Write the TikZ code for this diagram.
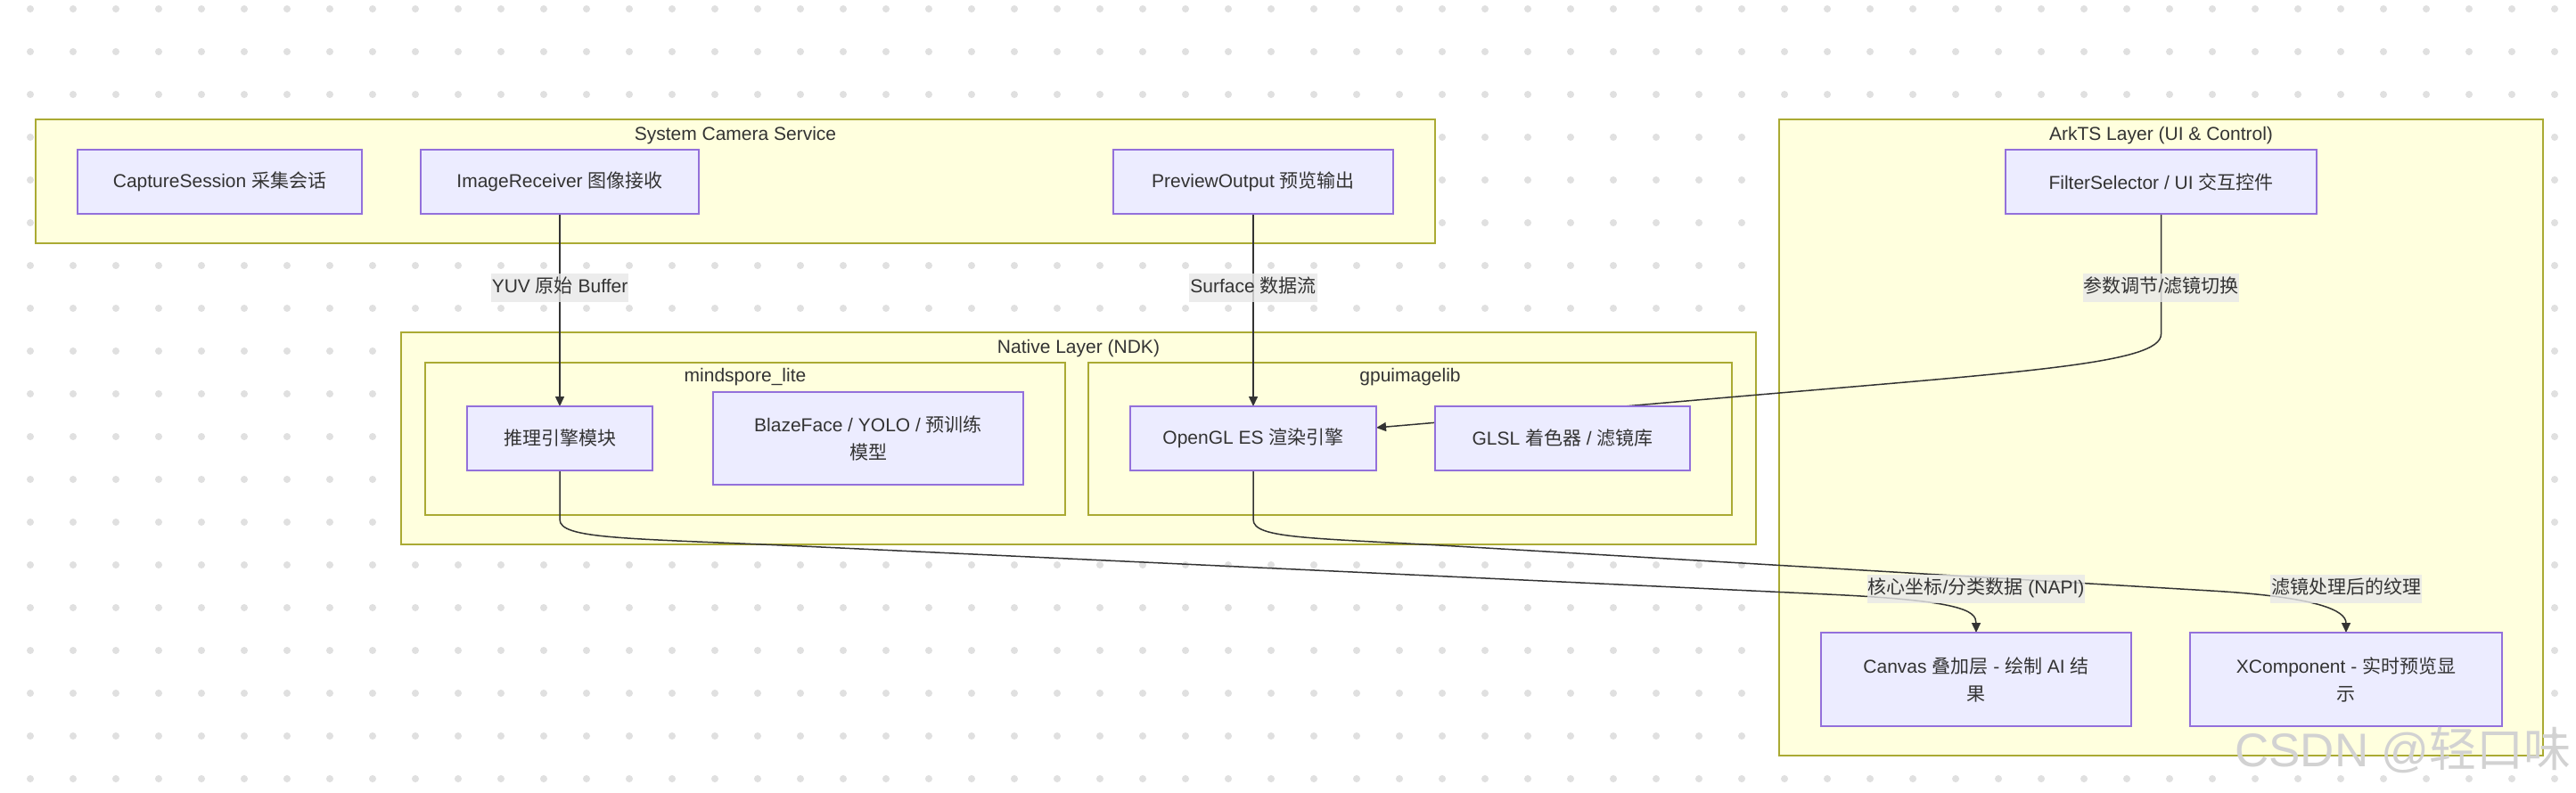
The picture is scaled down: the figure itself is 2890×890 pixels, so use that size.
\documentclass[tikz,border=0pt]{standalone}
\usepackage{fontspec}
\setmainfont{Liberation Sans}
\newfontfamily\cjkfont{Noto Sans CJK SC}
\newcommand{\zh}[1]{{\cjkfont #1}}
\usetikzlibrary{arrows.meta,calc}
\definecolor{clfill}{HTML}{FFFFDE}
\definecolor{clline}{HTML}{AAAA33}
\definecolor{ndfill}{HTML}{ECECFF}
\definecolor{ndline}{HTML}{9370DB}
\definecolor{txt}{HTML}{333333}
\definecolor{dotc}{HTML}{E0E0E0}
\definecolor{lblbg}{HTML}{E8E8E8}
\definecolor{wmark}{HTML}{D2D2D2}
\pgfdeclarelayer{bg}
\pgfdeclarelayer{edges}
\pgfsetlayers{bg,edges,main}
\begin{document}
\begin{tikzpicture}[x=1pt,y=-1pt,
  cluster/.style={draw=clline,fill=clfill,line width=1.6pt,inner sep=0pt,outer sep=0pt,rectangle},
  box/.style={draw=ndline,fill=ndfill,line width=1.6pt,inner sep=0pt,outer sep=0pt,rectangle,
    text=txt,font=\fontsize{21}{31}\selectfont,align=center,minimum height=72pt},
  ttl/.style={text=txt,font=\fontsize{21}{25}\selectfont,inner sep=0pt},
  lbl/.style={fill=lblbg,fill opacity=0.8,text opacity=1,text=txt,font=\fontsize{21}{25}\selectfont,
    inner xsep=1pt,inner ysep=5.5pt,text height=16pt,text depth=5pt},
  edge/.style={draw=txt,line width=1.5pt,-{Triangle[length=11pt,width=10pt]}}]
\useasboundingbox (0,0) rectangle (2890,890);

% background dots and clusters
\begin{pgfonlayer}{bg}
  \fill[white] (0,0) rectangle (2890,890);
  \foreach \i in {0,...,59}{\foreach \j in {0,...,18}{\fill[dotc] (34+48*\i,10+48*\j) circle (4pt);}}
  \node[cluster,minimum width=1570pt,minimum height=139pt] (sys) at (825,203.5) {};
  \node[cluster,minimum width=857pt,minimum height=714pt] (ark) at (2424.5,491) {};
  \node[cluster,minimum width=1520pt,minimum height=238pt] (native) at (1210,492) {};
  \node[cluster,minimum width=718pt,minimum height=171pt] (ms) at (836,492.5) {};
  \node[cluster,minimum width=722pt,minimum height=171pt] (gpu) at (1582,492.5) {};
\end{pgfonlayer}

% cluster titles
\node[ttl] (sysT) at (825,152) {System Camera Service};
\node[ttl] (arkT) at (2424.5,152) {ArkTS Layer (UI \& Control)};
\node[ttl] (nativeT) at (1210,391) {Native Layer (NDK)};
\node[ttl] (msT) at (836,423) {mindspore\_lite};
\node[ttl] (gpuT) at (1582,423) {gpuimagelib};

% nodes
\node[box,minimum width=319pt] (cap) at (246.5,204) {CaptureSession \zh{采集会话}};
\node[box,minimum width=312pt] (imgr) at (628,204) {ImageReceiver \zh{图像接收}};
\node[box,minimum width=314pt] (prev) at (1406,204) {PreviewOutput \zh{预览输出}};
\node[box,minimum width=349pt] (filt) at (2424.5,204) {FilterSelector / UI \zh{交互控件}};
\node[box,minimum width=208pt] (infer) at (628,492) {\zh{推理引擎模块}};
\node[box,minimum width=348pt,minimum height=104pt] (blaze) at (974,492) {BlazeFace / YOLO / \zh{预训练}\\\zh{模型}};
\node[box,minimum width=276pt] (ogl) at (1406,492) {OpenGL ES \zh{渲染引擎}};
\node[box,minimum width=286pt] (glsl) at (1753,492) {GLSL \zh{着色器} / \zh{滤镜库}};
\node[box,minimum width=348pt,minimum height=105pt] (canvas) at (2217,762.5) {Canvas \zh{叠加层} - \zh{绘制} AI \zh{结}\\\zh{果}};
\node[box,minimum width=350pt,minimum height=105pt] (xcomp) at (2632,762.5) {XComponent - \zh{实时预览显}\\\zh{示}};

% edges
\begin{pgfonlayer}{edges}
  \draw[edge] (imgr.south) -- (infer.north);
  \draw[edge] (prev.south) -- (ogl.north);
  \draw[edge] (filt.south) -- (2424.5,375) .. controls (2424.5,408) and (2275,417) .. (1950,445) -- ([yshift=12pt]ogl.east);
  \draw[edge] (infer.south) -- (628,583) .. controls (628,605) and (700,604) .. (900,613) -- (2050,667) .. controls (2200,674) and (2217,685) .. (canvas.north);
  \draw[edge] (ogl.south) -- (1406,583) .. controls (1406,605) and (1470,603.4) .. (1650,614) -- (2480,663) .. controls (2600,670) and (2632,685) .. (xcomp.north);
\end{pgfonlayer}

% edge labels
\node[lbl] (l1) at (628,323) {YUV \zh{原始} Buffer};
\node[lbl] (l2) at (1406,323) {Surface \zh{数据流}};
\node[lbl] (l3) at (2424.5,323) {\zh{参数调节}/\zh{滤镜切换}};
\node[lbl] (l4) at (2217,661) {\zh{核心坐标}/\zh{分类数据} (NAPI)};
\node[lbl] (l5) at (2632,661) {\zh{滤镜处理后的纹理}};

% watermark
\node[text=wmark,font=\fontsize{53}{60}\selectfont,inner sep=0pt,anchor=base east] (wm) at (2885,860) {CSDN @\zh{轻口味}};
\end{tikzpicture}
\end{document}
